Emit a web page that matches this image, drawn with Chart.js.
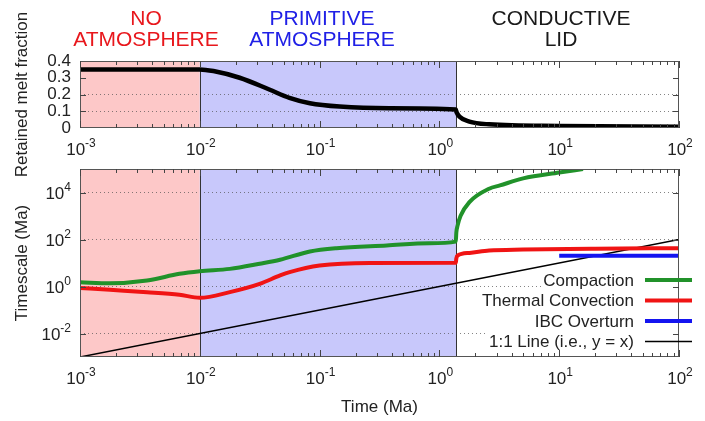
<!DOCTYPE html>
<html>
<head>
<meta charset="utf-8">
<script src="https://cdn.jsdelivr.net/npm/chart.js@4.4.0/dist/chart.umd.min.js"></script>
<style>
  html, body { margin: 0; padding: 0; background: #fff; }
  #fig { position: relative; width: 705px; height: 421px; overflow: hidden;
         font-family: 'Liberation Sans', Arial, sans-serif; }
  #fig canvas { position: absolute; left: 0; }
  #cTop { top: 0; }
  #cBas { top: 150px; }
  .phase { position: absolute; top: 7px; width: 220px; text-align: center;
           font-size: 21px; line-height: 21px; }
</style>
</head>
<body>
<div id="fig">
  <canvas id="cTop" width="705" height="190"></canvas>
  <canvas id="cBas" width="705" height="271"></canvas>
  <div class="phase" style="left:36px;color:#e8171c">NO<br>ATMOSPHERE</div>
  <div class="phase" style="left:212px;color:#2020e6">PRIMITIVE<br>ATMOSPHERE</div>
  <div class="phase" style="left:451px;color:#1a1a1a">CONDUCTIVE<br>LID</div>
</div>
<script>
// ── AXES ──────────────────────────────────────────
const X_TICKS     = [1e-3, 1e-2, 1e-1, 1e0, 1e1, 1e2];
const X_EXPOSANTS = ['-3', '-2', '-1', '0', '1', '2'];
const MELT_TICKS  = [0, 0.1, 0.2, 0.3, 0.4];
const MELT_LABELS = ['0', '0.1', '0.2', '0.3', '0.4'];
const TS_TICKS     = [1e-2, 1e0, 1e2, 1e4];
const TS_EXPOSANTS = ['-2', '0', '2', '4'];

// ── PHASES (limites en Ma) ────────────────────────
const PHASE_EDGES = [0.001, 0.01, 1.38, 100];
const PHASE_FILLS = ['#fdc8c8', '#c8c8fb', null];

// ── DONNÉES ───────────────────────────────────────
// fraction de liquide retenue (panneau du haut)
const MELT_T = [0.001, 0.01, 0.013, 0.0215, 0.038, 0.056, 0.083, 0.147, 0.38, 1.37, 1.39, 1.47, 1.78, 2.6, 10, 100];
const MELT_F = [0.35, 0.35, 0.34, 0.30, 0.23, 0.18, 0.148, 0.128, 0.118, 0.11, 0.095, 0.068, 0.038, 0.022, 0.012, 0.008];

// compaction
const COMP_T = [0.001, 0.00178, 0.00363, 0.00676, 0.01, 0.0178, 0.0316, 0.0468, 0.083, 0.138, 0.363, 0.826, 1.37, 1.385, 1.42, 1.5, 1.78, 2.6, 3.2, 5, 10, 15.8];
const COMP_Y = [1.51, 1.38, 1.8, 3.47, 4.47, 5.62, 9.33, 13.8, 30.9, 42.7, 55.6, 69.2, 81.3, 200, 398, 1000, 3890, 14450, 19950, 39800, 70800, 100000];

// convection thermique
const CONV_T = [0.001, 0.00178, 0.00363, 0.00676, 0.01, 0.0178, 0.0316, 0.0468, 0.0562, 0.1, 0.263, 1.37, 1.385, 1.42, 1.78, 2.6, 5, 20, 100];
const CONV_Y = [0.87, 0.72, 0.575, 0.447, 0.33, 0.575, 1.29, 2.95, 4.07, 7.76, 10, 10.2, 15.8, 20.9, 26.9, 33.9, 37.2, 40.7, 42.7];

// renversement IBC
const IBC_T = [10, 100];
const IBC_Y = [20.4, 20.4];

// droite 1:1
const ONE_T = [0.001, 100];
const ONE_Y = [0.001, 100];

// ── STYLE ─────────────────────────────────────────
const COULEURS = {
  noir:  '#000000',
  vert:  '#21922a',
  rouge: '#f01414',
  bleu:  '#1414f0',
  texte: '#222222',
  cadre: '#555555',
  grille: 'rgba(80,80,80,0.7)'
};
const POLICE = "'Liberation Sans', Arial, sans-serif";

Chart.defaults.font.family = POLICE;
Chart.defaults.font.size = 17;
Chart.defaults.color = COULEURS.texte;

function points(t, y) {
  return t.map(function(v, i) { return { x: v, y: y[i] }; });
}

function serie(label, t, y, couleur, epaisseur) {
  return {
    label: label,
    data: points(t, y),
    borderColor: couleur,
    borderWidth: epaisseur,
    pointRadius: 0,
    fill: false,
    cubicInterpolationMode: 'monotone'
  };
}

// "10" + exposant surélevé, comme gnuplot
function puissance(ctx, px, baseY, exp, align) {
  ctx.font = '17px ' + POLICE;
  const wb = ctx.measureText('10').width;
  ctx.font = '12px ' + POLICE;
  const we = ctx.measureText(exp).width;
  const x0 = align === 'center' ? px - (wb + we) / 2 : px - wb - we;
  ctx.textAlign = 'left';
  ctx.textBaseline = 'alphabetic';
  ctx.fillStyle = COULEURS.texte;
  ctx.font = '17px ' + POLICE;
  ctx.fillText('10', x0, baseY);
  ctx.font = '12px ' + POLICE;
  ctx.fillText(exp, x0 + wb, baseY - 8);
}

// ── PLUGIN : fonds, séparateurs, cadre, graduations, légende ──
const cadre = {
  id: 'cadre',
  beforeDraw(chart) {
    const { ctx, chartArea: a, scales: { x } } = chart;
    ctx.save();
    PHASE_FILLS.forEach(function(c, i) {
      if (!c) return;
      const x0 = x.getPixelForValue(PHASE_EDGES[i]);
      const x1 = x.getPixelForValue(PHASE_EDGES[i + 1]);
      ctx.fillStyle = c;
      ctx.fillRect(x0, a.top, x1 - x0, a.bottom - a.top);
    });
    ctx.restore();
  },
  beforeDatasetsDraw(chart) {
    const { ctx, chartArea: a, scales: { x } } = chart;
    ctx.save();
    ctx.strokeStyle = '#333';
    ctx.lineWidth = 1;
    [PHASE_EDGES[1], PHASE_EDGES[2]].forEach(function(v) {
      const px = Math.round(x.getPixelForValue(v)) + 0.5;
      ctx.beginPath();
      ctx.moveTo(px, a.top);
      ctx.lineTo(px, a.bottom);
      ctx.stroke();
    });
    ctx.restore();
  },
  afterDraw(chart, args, opts) {
    const { ctx, chartArea: a, scales: { x, y } } = chart;
    ctx.save();

    // fonds blancs derrière les entrées de légende
    const lignes = opts.legende ? chart.data.datasets : [];
    const droiteTexte = a.right - 45;
    ctx.font = '17px ' + POLICE;
    lignes.forEach(function(ds, i) {
      const ly = a.top + 111 + i * 20.5;
      const w = ctx.measureText(ds.label).width;
      ctx.fillStyle = '#fff';
      ctx.fillRect(droiteTexte - w - 2, ly - 9, a.right - droiteTexte + w + 2, 18);
    });

    // cadre
    ctx.strokeStyle = COULEURS.cadre;
    ctx.lineWidth = 1;
    ctx.strokeRect(a.left + 0.5, a.top + 0.5, a.right - a.left - 1, a.bottom - a.top - 1);

    // graduations x (majeures + mineures), vers l'intérieur
    ctx.strokeStyle = '#444';
    ctx.beginPath();
    X_TICKS.forEach(function(d, i) {
      const px = Math.round(x.getPixelForValue(d)) + 0.5;
      ctx.moveTo(px, a.bottom); ctx.lineTo(px, a.bottom - 7);
      ctx.moveTo(px, a.top);    ctx.lineTo(px, a.top + 7);
      if (i === X_TICKS.length - 1) return;
      for (let k = 2; k <= 9; k++) {
        const pm = Math.round(x.getPixelForValue(k * d)) + 0.5;
        ctx.moveTo(pm, a.bottom); ctx.lineTo(pm, a.bottom - 4);
        ctx.moveTo(pm, a.top);    ctx.lineTo(pm, a.top + 4);
      }
    });
    // graduations y
    opts.yTicks.forEach(function(v) {
      const py = Math.round(y.getPixelForValue(v)) + 0.5;
      ctx.moveTo(a.left, py);  ctx.lineTo(a.left + 6, py);
      ctx.moveTo(a.right, py); ctx.lineTo(a.right - 6, py);
    });
    ctx.stroke();

    // étiquettes x en puissances de 10
    X_TICKS.forEach(function(d, i) {
      puissance(ctx, x.getPixelForValue(d) + 1, a.bottom + 27, X_EXPOSANTS[i], 'center');
    });
    // étiquettes y en puissances de 10 (panneau du bas)
    if (opts.yPuissances) {
      TS_TICKS.forEach(function(v, i) {
        puissance(ctx, a.left - 9, y.getPixelForValue(v) + 6, TS_EXPOSANTS[i], 'right');
      });
    }

    // légende : texte aligné à droite + échantillon de trait
    lignes.forEach(function(ds, i) {
      const ly = a.top + 111 + i * 20.5;
      ctx.font = '17px ' + POLICE;
      ctx.fillStyle = COULEURS.texte;
      ctx.textAlign = 'right';
      ctx.textBaseline = 'middle';
      ctx.fillText(ds.label, droiteTexte, ly + 1);
      ctx.strokeStyle = ds.borderColor;
      ctx.lineWidth = ds.borderWidth;
      ctx.beginPath();
      ctx.moveTo(a.right - 34, ly);
      ctx.lineTo(a.right + 13, ly);
      ctx.stroke();
    });
    ctx.restore();
  }
};

function axeX(hauteur, titre) {
  return {
    type: 'logarithmic',
    min: 1e-3,
    max: 1e2,
    afterBuildTicks: function(s) { s.ticks = X_TICKS.map(function(v) { return { value: v }; }); },
    afterFit: function(s) { s.height = hauteur; },
    ticks: { display: false },
    grid: { display: false },
    border: { display: false },
    title: titre
  };
}

const optionsBase = {
  responsive: false,
  animation: false,
  devicePixelRatio: 1,
  events: [],
  plugins: { legend: { display: false }, tooltip: { enabled: false } }
};

// ── PANNEAU DU HAUT : fraction retenue ────────────
new Chart(document.getElementById('cTop'), {
  type: 'line',
  data: { datasets: [serie('Retained melt fraction', MELT_T, MELT_F, COULEURS.noir, 4.5)] },
  options: Object.assign({}, optionsBase, {
    layout: { padding: { left: 0, right: 26, top: 61, bottom: 0 } },
    plugins: Object.assign({}, optionsBase.plugins, { cadre: { yTicks: [0.1, 0.2, 0.3], legende: false, yPuissances: false } }),
    scales: {
      x: axeX(62, { display: false }),
      y: {
        type: 'linear',
        min: 0,
        max: 0.4,
        afterBuildTicks: function(s) { s.ticks = MELT_TICKS.map(function(v) { return { value: v }; }); },
        afterFit: function(s) { s.width = 80; },
        ticks: {
          autoSkip: false,
          padding: 9,
          callback: function(v) { return MELT_LABELS[MELT_TICKS.indexOf(v)]; }
        },
        grid: {
          drawTicks: false,
          color: function(c) { return (c.tick && (c.tick.value === 0.1 || c.tick.value === 0.2)) ? COULEURS.grille : 'transparent'; }
        },
        border: { display: false, dash: [1, 3] },
        title: { display: true, text: 'Retained melt fraction', padding: { top: 12, bottom: 0 } }
      }
    }
  }),
  plugins: [cadre]
});

// ── PANNEAU DU BAS : échelles de temps ───────────
new Chart(document.getElementById('cBas'), {
  type: 'line',
  data: {
    datasets: [
      serie('Compaction', COMP_T, COMP_Y, COULEURS.vert, 4),
      serie('Thermal Convection', CONV_T, CONV_Y, COULEURS.rouge, 4),
      serie('IBC Overturn', IBC_T, IBC_Y, COULEURS.bleu, 4),
      serie('1:1 Line (i.e., y = x)', ONE_T, ONE_Y, COULEURS.noir, 1.5)
    ]
  },
  options: Object.assign({}, optionsBase, {
    layout: { padding: { left: 0, right: 26, top: 19, bottom: 0 } },
    plugins: Object.assign({}, optionsBase.plugins, { cadre: { yTicks: TS_TICKS, legende: true, yPuissances: true } }),
    scales: {
      x: axeX(64, { display: true, text: 'Time (Ma)', padding: { top: 0, bottom: 3 } }),
      y: {
        type: 'logarithmic',
        min: 1e-3,
        max: 1e5,
        afterBuildTicks: function(s) { s.ticks = TS_TICKS.map(function(v) { return { value: v }; }); },
        afterFit: function(s) { s.width = 80; },
        ticks: { display: false },
        grid: { drawTicks: false, color: COULEURS.grille },
        border: { display: false, dash: [1, 3] },
        title: { display: true, text: 'Timescale (Ma)', padding: { top: 12, bottom: 0 } }
      }
    }
  }),
  plugins: [cadre]
});
</script>
</body>
</html>
